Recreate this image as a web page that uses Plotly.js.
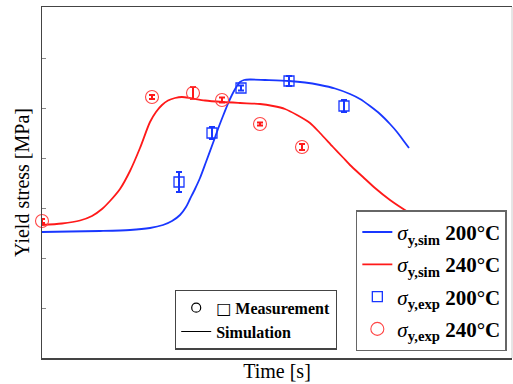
<!DOCTYPE html>
<html>
<head>
<meta charset="utf-8">
<script src="https://cdn.plot.ly/plotly-3.0.1.min.js"></script>
<style>html,body{margin:0;padding:0;background:#fff;}#chart{width:513px;height:384px;}</style>
</head>
<body>
<div id="chart"></div>
<script>
// Simulation curves (time in arbitrary units, yield stress in arbitrary units)
const simTime200 = [0,28,58,88,108,121,130,138,144,148,153,158,164,171,176,181,185,188,192,195,198,202,208,223,247,263,278,293,308,318,328,338,348,355,361,367];
const simStress200 = [126,126.5,127,128,130,133,137,143,151,159,169,180,196,215,229,242,252,259,267,272,276,278,278.5,278,277,275.5,273,269.5,264,259,252,244,234,226,218,210];

const simTime240 = [0,20,38,50,60,68,78,88,98,108,114,120,126,133,140,150,163,181,198,218,231,243,255,268,278,291,301,308,321,333,348,366,383];
const simStress240 = [133,134.5,137.5,142,149,157,169,187,210,236,246,253,257.5,260,261,259.5,257.5,256,255,254,252,249,243,235,225,211,200.5,193,181,170,158,146,136];

// Measurements with error bars
const expTime200 = [137,170,199,247,302];
const expStress200 = [176,225,270,277,252];
const expErr200 = [10,6,2.5,5,6];

const expTime240 = [0,110,151,180,218,260];
const expStress240 = [137,261,265,258,234,211];
const expErr240 = [2,2,6,2.5,1.5,3];

const legendNames = [
  '<i>σ</i><sub><b>y,sim</b></sub> <b>200°C</b>',
  '<i>σ</i><sub><b>y,sim</b></sub> <b>240°C</b>',
  '<i>σ</i><sub><b>y,exp</b></sub> <b>200°C</b>',
  '<i>σ</i><sub><b>y,exp</b></sub> <b>240°C</b>'
];
const keyNames = [
  '<span style="font-family:DejaVu Sans;font-weight:normal">□</span> Measurement',
  'Simulation'
];

const BLUE = 'rgb(25,55,255)';
const RED = 'rgb(255,25,25)';
const SERIF = 'Liberation Serif, Times New Roman, serif';

const traces = [
  {x: simTime200, y: simStress200, mode: 'lines', name: legendNames[0], legendgroup: 'a',
   line: {color: BLUE, width: 1.8, shape: 'spline', smoothing: 0.8}},
  {x: simTime240, y: simStress240, mode: 'lines', name: legendNames[1], legendgroup: 'b',
   line: {color: RED, width: 1.8, shape: 'spline', smoothing: 0.8}},
  {x: expTime200, y: expStress200, mode: 'markers', name: legendNames[2], legendgroup: 'c', cliponaxis: false,
   marker: {symbol: 'square-open', size: 10, color: BLUE, line: {width: 1.3, color: BLUE}},
   error_y: {type: 'data', array: expErr200, visible: true, color: BLUE, thickness: 2, width: 3}},
  {x: expTime240, y: expStress240, mode: 'markers', name: legendNames[3], legendgroup: 'd', cliponaxis: false,
   marker: {symbol: 'circle-open', size: 13, color: 'rgb(255,70,70)', line: {width: 1.1, color: 'rgb(255,70,70)'}},
   error_y: {type: 'data', array: expErr240, visible: true, color: RED, thickness: 2, width: 3}},
  {x: [null], y: [null], mode: 'markers', name: keyNames[0], legend: 'legend2',
   marker: {symbol: 'circle-open', size: 9, color: '#000', line: {width: 1.2, color: '#000'}}},
  {x: [null], y: [null], mode: 'lines', name: keyNames[1], legend: 'legend2',
   line: {color: '#000', width: 1.2}}
];

const layout = {
  width: 513, height: 384,
  margin: {l: 42, r: 1, t: 7, b: 26},
  paper_bgcolor: '#fff', plot_bgcolor: '#fff',
  font: {family: SERIF, color: '#000'},
  showlegend: true,
  xaxis: {
    range: [0, 470], showgrid: false, zeroline: false, showticklabels: false, ticks: '',
    showline: true, mirror: true, linecolor: '#444', linewidth: 1.5,
    title: {text: 'Time [s]', font: {family: SERIF, size: 20, color: '#000'}, standoff: 5}
  },
  yaxis: {
    range: [0, 351], showgrid: false, zeroline: false, showticklabels: false,
    ticks: 'inside', ticklen: 4, tickcolor: '#888', tickwidth: 1, tick0: 0, dtick: 50,
    showline: true, linecolor: '#444', linewidth: 1.5,
    title: {text: 'Yield stress [MPa]', font: {family: SERIF, size: 20, color: '#000'}, standoff: 5}
  },
  legend: {
    x: 0.989, xanchor: 'right', y: 0.019, yanchor: 'bottom',
    bgcolor: '#fff', bordercolor: '#666', borderwidth: 1.5,
    font: {family: SERIF, size: 21, color: '#000'},
    traceorder: 'grouped', tracegroupgap: 2
  },
  legend2: {
    x: 0.283, xanchor: 'left', y: 0.024, yanchor: 'bottom',
    bgcolor: '#fff', bordercolor: '#444', borderwidth: 1.2,
    font: {family: SERIF, size: 16, color: '#000', weight: 'bold'}
  },
  shapes: [
    {type: 'line', xref: 'paper', yref: 'paper', x0: 1, x1: 1, y0: 0, y1: 1,
     line: {color: '#ccc', width: 1}}
  ]
};

Plotly.newPlot('chart', traces, layout, {displayModeBar: false, staticPlot: true});
</script>
</body>
</html>
